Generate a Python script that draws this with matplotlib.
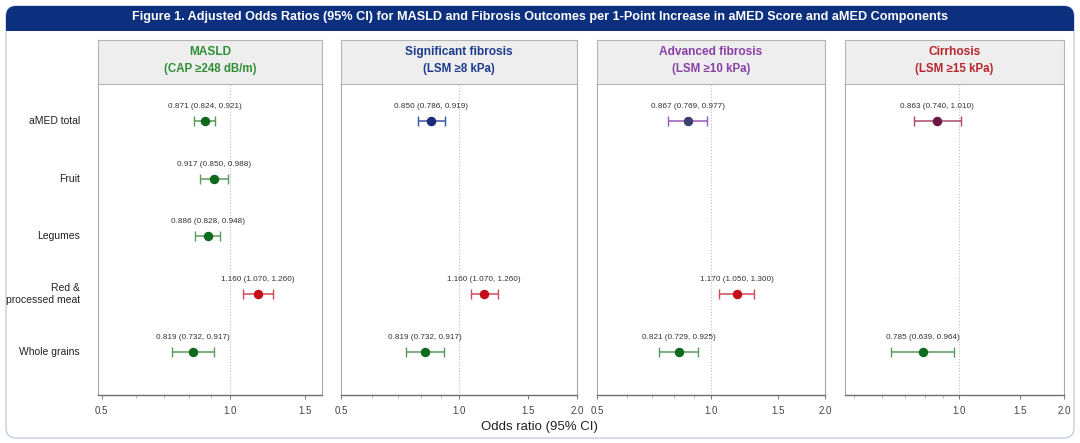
import numpy as np
import matplotlib
matplotlib.use("Agg")
import matplotlib.pyplot as plt
from matplotlib.patches import FancyBboxPatch, Rectangle
from matplotlib.ticker import FixedLocator, FixedFormatter, NullFormatter

plt.rcParams["font.family"] = ["Liberation Sans", "DejaVu Sans"]

nan = np.nan
rows = ["aMED total", "Fruit", "Legumes", "Red &\nprocessed meat", "Whole grains"]

outcomes = ["MASLD", "Significant fibrosis", "Advanced fibrosis", "Cirrhosis"]
subtitles = ["(CAP \u2265248 dB/m)", "(LSM \u22658 kPa)", "(LSM \u226510 kPa)", "(LSM \u226515 kPa)"]

masld_or = [0.871, 0.917, 0.886, 1.160, 0.819]
masld_lo = [0.824, 0.850, 0.828, 1.070, 0.732]
masld_hi = [0.921, 0.988, 0.948, 1.260, 0.917]

sig_or = [0.850, nan, nan, 1.160, 0.819]
sig_lo = [0.786, nan, nan, 1.070, 0.732]
sig_hi = [0.919, nan, nan, 1.260, 0.917]

adv_or = [0.867, nan, nan, 1.170, 0.821]
adv_lo = [0.769, nan, nan, 1.050, 0.729]
adv_hi = [0.977, nan, nan, 1.300, 0.925]

cirr_or = [0.863, nan, nan, nan, 0.785]
cirr_lo = [0.740, nan, nan, nan, 0.639]
cirr_hi = [1.010, nan, nan, nan, 0.964]

panels = [
    (masld_or, masld_lo, masld_hi),
    (sig_or, sig_lo, sig_hi),
    (adv_or, adv_lo, adv_hi),
    (cirr_or, cirr_lo, cirr_hi),
]

x_limits = [(0.49, 1.64), (0.5, 2.0), (0.5, 2.0), (0.47, 2.0)]
x_ticks = [[0.5, 1.0, 1.5], [0.5, 1.0, 1.5, 2.0], [0.5, 1.0, 1.5, 2.0], [1.0, 1.5, 2.0]]

head_colors = ["#2f8f35", "#1d3a8c", "#8a3fa6", "#b8252c"]
# (marker, whisker) colours for the aMED total row of each panel
total_colors = [("#0e6b1e", "#4f9a55"), ("#1b2a7a", "#3a54a8"),
                ("#3d3f6e", "#9a5ab8"), ("#6a1840", "#a84a68")]
green = ("#0e6b1e", "#5a9a5e")
red = ("#c40e1b", "#d4495a")

W, H = 10.8, 4.43
fig = plt.figure(figsize=(W, H), dpi=100)


def px_box(x0, y0, x1, y1):
    # pixel box (top-left origin) -> figure fraction
    return [x0 / 1080, 1 - y1 / 443, (x1 - x0) / 1080, (y1 - y0) / 443]


# outer frame and title bar
frame = FancyBboxPatch((0.06, 0.05), W - 0.12, H - 0.11,
                       boxstyle="round,pad=0,rounding_size=0.1",
                       transform=fig.dpi_scale_trans, facecolor="white",
                       edgecolor="#c3cfe2", linewidth=1.0, zorder=0)
fig.add_artist(frame)
bar = FancyBboxPatch((0.06, H - 0.31), W - 0.12, 0.25,
                     boxstyle="round,pad=0,rounding_size=0.1",
                     transform=fig.dpi_scale_trans, facecolor="#0c2f7e",
                     edgecolor="none", zorder=1)
fig.add_artist(bar)
fig.add_artist(Rectangle((0.06, H - 0.31), W - 0.12, 0.12,
                         transform=fig.dpi_scale_trans, facecolor="#0c2f7e",
                         edgecolor="none", zorder=1))
fig.text(0.5, 1 - 17 / 443,
         "Figure 1. Adjusted Odds Ratios (95% CI) for MASLD and Fibrosis Outcomes "
         "per 1-Point Increase in aMED Score and aMED Components",
         color="white", fontsize=9.05, fontweight="bold", ha="center", va="center", zorder=2)

panel_x = [(98, 322), (341, 577), (597, 825), (845, 1064)]

for k, (xs, (orv, lov, hiv)) in enumerate(zip(panel_x, panels)):
    ax = fig.add_axes(px_box(xs[0], 84, xs[1], 395))
    ax.set_xscale("log")
    ax.set_xlim(*x_limits[k])
    ax.set_ylim(4.745, -0.64)
    ax.axvline(1.0, color="#bdbdbd", linestyle=":", linewidth=0.8, zorder=1)

    for i in range(len(rows)):
        if np.isnan(orv[i]):
            continue
        if i == 0:
            mc, lc = total_colors[k]
        elif i == 3:
            mc, lc = red
        else:
            mc, lc = green
        ax.errorbar(orv[i], i, xerr=[[orv[i] - lov[i]], [hiv[i] - orv[i]]],
                    fmt="o", color=mc, ecolor=lc, elinewidth=1.1, capsize=3.5,
                    capthick=1.0, markersize=5.8, zorder=3)
        ax.annotate(f"{orv[i]:.3f} ({lov[i]:.3f}, {hiv[i]:.3f})", (orv[i], i),
                    xytext=(0, 8), textcoords="offset points", ha="center",
                    va="bottom", fontsize=5.9, color="#333333")

    ax.xaxis.set_major_locator(FixedLocator(x_ticks[k]))
    ax.xaxis.set_major_formatter(FixedFormatter([f"{t:.1f}" for t in x_ticks[k]]))
    ax.xaxis.set_minor_formatter(NullFormatter())
    ax.tick_params(axis="x", which="major", labelsize=7, labelcolor="#444444",
                   color="#777777", length=3, width=0.7, pad=5)
    ax.tick_params(axis="x", which="minor", color="#999999", length=2, width=0.5)
    ax.set_yticks([])
    ax.spines["top"].set_visible(False)
    for s in ("left", "right"):
        ax.spines[s].set_color("#a8a8a8")
        ax.spines[s].set_linewidth(0.8)
    ax.spines["bottom"].set_color("#6e6e6e")
    ax.spines["bottom"].set_linewidth(1.0)

    if k == 0:
        for i, lab in enumerate(rows):
            ax.text(-0.08, i, lab, transform=ax.get_yaxis_transform(),
                    ha="right", va="center", fontsize=7.5, color="#222222",
                    linespacing=1.3)

    hx = fig.add_axes(px_box(xs[0], 40, xs[1], 84))
    hx.set_facecolor("#eeeeee")
    hx.set_xticks([])
    hx.set_yticks([])
    for s in hx.spines.values():
        s.set_color("#b5b5b5")
        s.set_linewidth(0.8)
    hx.text(0.5, 0.73, outcomes[k], ha="center", va="center", fontsize=8.6,
            fontweight="bold", color=head_colors[k], transform=hx.transAxes)
    hx.text(0.5, 0.34, subtitles[k], ha="center", va="center", fontsize=8.3,
            fontweight="bold", color=head_colors[k], transform=hx.transAxes)

fig.text(539 / 1080, 1 - 427 / 443, "Odds ratio (95% CI)", ha="center",
         va="center", fontsize=9.5, color="#222222")

fig.savefig("out.png", dpi=100)
